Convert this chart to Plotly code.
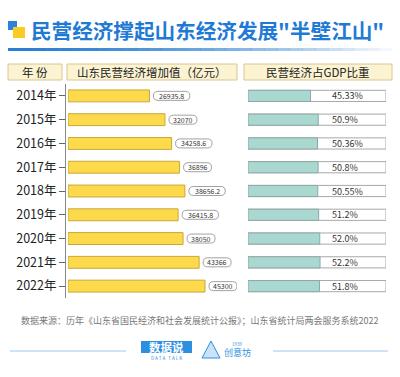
import plotly.graph_objects as go

years = ["2014年", "2015年", "2016年", "2017年", "2018年", "2019年", "2020年", "2021年", "2022年"]
added_value = [26935.8, 32070, 34258.6, 36896, 38656.2, 36415.8, 38050, 43366, 45300]
added_labels = ["26935.8", "32070", "34258.6", "36896", "38656.2", "36415.8", "38050", "43366", "45300"]
gdp_share = [45.33, 50.9, 50.36, 50.8, 50.55, 51.2, 52.0, 52.2, 51.8]
share_labels = ["45.33%", "50.9%", "50.36%", "50.8%", "50.55%", "51.2%", "52.0%", "52.2%", "51.8%"]

title_text = "民营经济撑起山东经济发展\"半壁江山\""
header_year = "年 份"
header_value = "山东民营经济增加值（亿元）"
header_share = "民营经济占GDP比重"
source_text = "数据来源：历年《山东省国民经济和社会发展统计公报》；山东省统计局两会服务系统2022"

W, H = 400, 377
FONT = "Noto Sans CJK SC"

def px(x):
    return x / W

def py(y):
    return 1 - y / H

fig = go.Figure()

# left bars
fig.add_trace(go.Bar(
    x=added_value, y=years, orientation="h", xaxis="x", yaxis="y",
    marker=dict(color="#FDD94C", line=dict(color="#C9A838", width=1)),
    width=0.5, hoverinfo="skip", showlegend=False,
))
# right background bars
fig.add_trace(go.Bar(
    x=[100] * len(years), y=years, orientation="h", xaxis="x2", yaxis="y",
    marker=dict(color="#FFFFFF", line=dict(color="#A8A8A8", width=1)),
    width=0.47, hoverinfo="skip", showlegend=False,
))
# right teal fill
fig.add_trace(go.Bar(
    x=gdp_share, y=years, orientation="h", xaxis="x2", yaxis="y",
    marker=dict(color="#A9D8D0", line=dict(color="#8FA8A4", width=1)),
    width=0.47, hoverinfo="skip", showlegend=False,
))

shapes = []
annotations = []

# value pills
for yr, v, lab in zip(years, added_value, added_labels):
    w = 4.2 * len(lab) + 7
    x0, x1, h, r = 4, 4 + w, 4.5, 4.5
    path = (f"M {x0+r},{-h} L {x1-r},{-h} Q {x1},{-h} {x1},0 Q {x1},{h} {x1-r},{h} "
            f"L {x0+r},{h} Q {x0},{h} {x0},0 Q {x0},{-h} {x0+r},{-h} Z")
    shapes.append(dict(type="path", xref="x", yref="y", xsizemode="pixel", ysizemode="pixel",
                       xanchor=v, yanchor=yr, path=path,
                       fillcolor="#FFFFFF", line=dict(color="#8A8A8A", width=0.8)))
    annotations.append(dict(x=v, y=yr, xref="x", yref="y",
                            text=lab, showarrow=False, xanchor="center", yanchor="middle",
                            xshift=x0 + w / 2, font=dict(family=FONT, size=7, color="#333333")))

# share labels
for yr, lab in zip(years, share_labels):
    annotations.append(dict(x=59.4, y=yr, xref="x2", yref="y", text=lab, showarrow=False,
                            xanchor="left", yanchor="middle",
                            font=dict(family=FONT, size=9, color="#333333")))

# header boxes
for (x0, x1, txt) in [(8, 62, header_year), (67, 237, header_value), (244, 392, header_share)]:
    shapes.append(dict(type="rect", xref="paper", yref="paper", x0=px(x0), x1=px(x1),
                       y0=py(80), y1=py(64), fillcolor="#FBF3D2", line=dict(color="#D9C692", width=1),
                       layer="below"))
    annotations.append(dict(x=px((x0 + x1) / 2), y=py(72), xref="paper", yref="paper", text=txt,
                            showarrow=False, xanchor="center", yanchor="middle",
                            font=dict(family=FONT, size=11.5, color="#222222")))

# title icon
shapes.append(dict(type="rect", xref="paper", yref="paper", x0=px(8), x1=px(17), y0=py(30), y1=py(21),
                   fillcolor="#2A82DC", line=dict(width=0)))
shapes.append(dict(type="rect", xref="paper", yref="paper", x0=px(13), x1=px(25), y0=py(38), y1=py(27),
                   fillcolor="#F9CC22", line=dict(width=0)))
annotations.append(dict(x=px(29), y=py(30), xref="paper", yref="paper", text="<b>" + title_text + "</b>",
                        showarrow=False, xanchor="left", yanchor="middle",
                        font=dict(family=FONT, size=20.6, color="#1F7AD6")))

# gradient underline
n = 30
xs, xe = 8, 392
for i in range(n):
    a = xs + (xe - xs) * i / n
    b = xs + (xe - xs) * (i + 1) / n
    op = max(0.0, 1 - (i / n) ** 1.6)
    shapes.append(dict(type="rect", xref="paper", yref="paper", x0=px(a), x1=px(b) + 0.001,
                       y0=py(51), y1=py(48), fillcolor="#2A7FD4", opacity=op, line=dict(width=0)))

# footer
annotations.append(dict(x=px(199), y=py(320), xref="paper", yref="paper", text=source_text,
                        showarrow=False, xanchor="center", yanchor="middle",
                        font=dict(family=FONT, size=9, color="#777777")))
for (a, b) in [(10, 126), (273, 388)]:
    shapes.append(dict(type="line", xref="paper", yref="paper", x0=px(a), x1=px(b), y0=py(351), y1=py(351),
                       line=dict(color="#9CC6EA", width=1)))
# logo 1
shapes.append(dict(type="rect", xref="paper", yref="paper", x0=px(141), x1=px(192), y0=py(353), y1=py(341),
                   fillcolor="#2C8FE0", line=dict(width=0)))
annotations.append(dict(x=px(166.5), y=py(347), xref="paper", yref="paper", text="<b>数据说</b>",
                        showarrow=False, xanchor="center", yanchor="middle",
                        font=dict(family=FONT, size=11.5, color="#FFFFFF")))
annotations.append(dict(x=px(166.5), y=py(357.5), xref="paper", yref="paper", text="D A T A   T A L K",
                        showarrow=False, xanchor="center", yanchor="middle",
                        font=dict(family=FONT, size=4.5, color="#2C8FE0")))
# logo 2
shapes.append(dict(type="path", xref="paper", yref="paper",
                   path=f"M {px(202)},{py(358)} L {px(211)},{py(341)} L {px(220)},{py(358)} Z",
                   fillcolor="rgba(44,143,224,0.25)", line=dict(color="#2C8FE0", width=1)))
annotations.append(dict(x=px(237), y=py(344), xref="paper", yref="paper", text="1939",
                        showarrow=False, xanchor="center", yanchor="middle",
                        font=dict(family=FONT, size=4.5, color="#2C8FE0")))
annotations.append(dict(x=px(237), y=py(352), xref="paper", yref="paper", text="创意坊",
                        showarrow=False, xanchor="center", yanchor="middle",
                        font=dict(family=FONT, size=9, color="#2C8FE0")))

fig.update_layout(
    width=W, height=H, margin=dict(l=0, r=0, t=0, b=0),
    paper_bgcolor="#FFFFFF", plot_bgcolor="rgba(0,0,0,0)",
    barmode="overlay", showlegend=False,
    xaxis=dict(domain=[px(68), px(237)], range=[0, 55890], visible=False, fixedrange=True),
    xaxis2=dict(domain=[px(248), px(386)], range=[0, 100], visible=False, fixedrange=True, anchor="y"),
    yaxis=dict(domain=[py(298), py(84)], type="category", categoryorder="array", categoryarray=years,
               range=[8.5, -0.5], anchor="free", position=px(65), showline=True, linecolor="#888888",
               linewidth=1, ticks="outside", ticklen=6, tickcolor="#666666", showgrid=False,
               zeroline=False, tickfont=dict(family=FONT, size=12.5, color="#222222"), fixedrange=True),
    shapes=shapes, annotations=annotations,
    font=dict(family=FONT),
)

fig.write_html("out.html", config={"displayModeBar": False},
               post_script="document.body.style.margin='0';")
